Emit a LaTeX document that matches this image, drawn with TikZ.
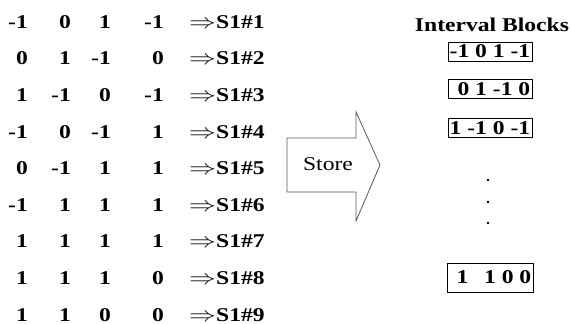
\documentclass[tikz,border=0pt]{standalone}
\usepackage{fontspec}
\setmainfont[FakeStretch=1.21]{Liberation Serif}
\usetikzlibrary{positioning}

\begin{document}
\begin{tikzpicture}[x=1pt,y=-1pt,font=\fontsize{19.5}{22}\selectfont]
            \tikzstyle{entry}=[inner sep=0,anchor=base east,font=\fontsize{19.5}{22}\selectfont\bfseries]
            \tikzstyle{block}=[draw,line width=0.9pt,inner xsep=0pt,inner ysep=2pt,minimum width=84pt,minimum height=19pt,font=\fontsize{19.5}{22}\selectfont\bfseries]
            \useasboundingbox (0,0) rectangle (571,324);
            % the nine input rows
            \foreach \a/\b/\c/\d [count=\i] in {-1/0/1/-1,0/1/-1/0,1/-1/0/-1,-1/0/-1/1,0/-1/1/1,-1/1/1/1,1/1/1/1,1/1/1/0,1/1/0/0}{
              \node[entry] (a\i) at (28,{36.6*\i-8.3}) {\a};
              \node[entry] (b\i) at (71,{36.6*\i-8.3}) {\b};
              \node[entry] (c\i) at (111,{36.6*\i-8.3}) {\c};
              \node[entry] (d\i) at (164,{36.6*\i-8.3}) {\d};
              \node[entry,anchor=base west] (s\i) at (189,{36.6*\i-8.3}) {\scalebox{1.3}[1]{$\Rightarrow$}S1\#\i};
            }
            % store arrow
            \draw[black!65,line width=0.8pt] (287,138) -- (356,138) -- (356,112) -- (380,165) -- (356,221) -- (356,192) -- (287,192) -- cycle;
            \node (store) at (328,164) {Store};
            % stored blocks
            \node[font=\fontsize{19.5}{22}\selectfont\bfseries] (title) at (492,25) {Interval Blocks};
            \node[block] (b1) at (490,51.5) {-1 0 1 -1};
            \node[block,below=18pt of b1] (b2) {\phantom{-}0 1 -1 0};
            \node[block,below=19pt of b2] (b3) {1 -1 0 -1};
            \foreach \y in {180,202,223}
              \fill (488,\y) circle (1.3pt);
            \node[block,minimum width=86pt,minimum height=29pt] (b4) at (490,277.5) {\phantom{-}1 \enskip1 0 0};
          \end{tikzpicture}
\end{document}
